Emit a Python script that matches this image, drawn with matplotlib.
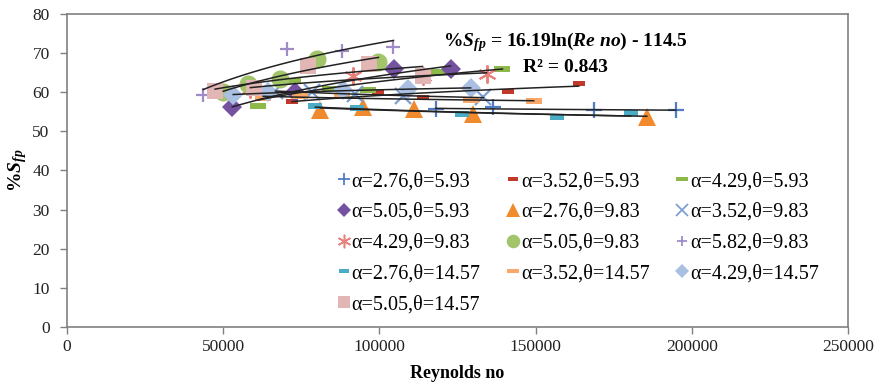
import numpy as np
import matplotlib
matplotlib.use("Agg")
import matplotlib.pyplot as plt
from matplotlib.lines import Line2D

plt.rcParams['font.family'] = ['Liberation Serif', 'DejaVu Serif']
plt.rcParams['mathtext.fontset'] = 'custom'
plt.rcParams['mathtext.rm'] = 'Liberation Serif'
plt.rcParams['mathtext.it'] = 'Liberation Serif:italic'
plt.rcParams['mathtext.bf'] = 'Liberation Serif:bold'
plt.rcParams['mathtext.bfit'] = 'Liberation Serif:bold:italic'

# ---- data (Reynolds no, %Sfp) ----
labels = ["α=2.76,θ=5.93", "α=3.52,θ=5.93", "α=4.29,θ=5.93",
          "α=5.05,θ=5.93", "α=2.76,θ=9.83", "α=3.52,θ=9.83",
          "α=4.29,θ=9.83", "α=5.05,θ=9.83", "α=5.82,θ=9.83",
          "α=2.76,θ=14.57", "α=3.52,θ=14.57", "α=4.29,θ=14.57",
          "α=5.05,θ=14.57"]

x1 = [118000, 136500, 168600, 194900]
y1 = [55.6, 56.2, 55.4, 55.4]
x2 = [72100, 99700, 113800, 141300, 163800]
y2 = [57.7, 60.0, 58.7, 60.3, 62.3]
x3 = [61200, 72400, 84300, 96500, 118900, 139400]
y3 = [56.4, 62.8, 60.8, 60.5, 65.1, 65.9]
x4 = [52900, 73100, 104800, 122800]
y4 = [56.2, 60.0, 65.9, 65.9]
x5 = [81100, 94900, 111200, 130100, 185600]
y5 = [55.4, 56.2, 55.6, 54.4, 53.8]
x6 = [66700, 78500, 92300, 107700, 133300]
y6 = [60.3, 60.0, 59.5, 59.0, 58.7]
x7 = [58700, 91700, 114100, 134300]
y7 = [60.8, 64.1, 64.1, 64.6]
x8 = [50000, 58000, 68300, 80100, 99700]
y8 = [60.0, 62.1, 63.3, 68.5, 67.7]
x9 = [43600, 70500, 88100, 104500]
y9 = [59.2, 71.0, 70.5, 71.6]
x10 = [79500, 92900, 126300, 157000, 180400]
y10 = [56.4, 55.9, 54.4, 53.8, 54.6]
x11 = [62800, 74700, 88100, 129200, 149400]
y11 = [58.5, 59.0, 59.0, 57.9, 57.7]
x12 = [53200, 64400, 88500, 109000, 129200]
y12 = [59.2, 60.0, 60.5, 60.8, 61.0]
x13 = [47400, 60000, 77200, 96800, 113800]
y13 = [60.3, 61.0, 66.7, 67.2, 64.1]

xs = [x1, x2, x3, x4, x5, x6, x7, x8, x9, x10, x11, x12, x13]
ys = [y1, y2, y3, y4, y5, y6, y7, y8, y9, y10, y11, y12, y13]

dash_w = [(-1, -0.33), (1, -0.33), (1, 0.33), (-1, 0.33), (-1, -0.33)]
dash_s = [(-1, -0.4), (1, -0.4), (1, 0.4), (-1, 0.4), (-1, -0.4)]

styles = [
    dict(marker='+', color='#4F7CC4', ms=12, mew=1.6),
    dict(marker=dash_s, color='#C0392B', ms=9, mew=0),
    dict(marker=dash_w, color='#8DB84A', ms=12, mew=0),
    dict(marker='D', color='#7452A0', ms=10, mew=0),
    dict(marker='^', color='#F08A2C', ms=13, mew=0),
    dict(marker='x', color='#7DA0D4', ms=12, mew=1.6),
    dict(marker=(6, 2, 0), color='#E8807C', ms=13, mew=1.4),
    dict(marker='o', color='#A2C46A', ms=13, mew=0),
    dict(marker='+', color='#9E8BC8', ms=10, mew=1.6),
    dict(marker=dash_s, color='#4BACC6', ms=10, mew=0),
    dict(marker=dash_s, color='#F9A86A', ms=11, mew=0),
    dict(marker='D', color='#A9C0E2', ms=10, mew=0),
    dict(marker='s', color='#E2B6B5', ms=11, mew=0),
]

fig = plt.figure(figsize=(8.82, 3.85), dpi=100)
ax = fig.add_axes([67 / 882, 1 - 327 / 385, (848 - 67) / 882, (327 - 14) / 385])

handles = []
for x, y, st, lab in zip(xs, ys, styles, labels):
    ax.plot(x, y, linestyle='none', marker=st['marker'], color=st['color'],
            markersize=st['ms'], markeredgewidth=st['mew'],
            markeredgecolor=st['color'], label=lab, zorder=2)
    handles.append(Line2D([], [], linestyle='none', marker=st['marker'], color=st['color'],
                          markersize=st['ms'] * 0.75, markeredgewidth=st['mew'] * 0.8,
                          markeredgecolor=st['color']))
    # logarithmic trendline
    b, a = np.polyfit(np.log(x), y, 1)
    xx = np.linspace(min(x), max(x), 100)
    ax.plot(xx, a + b * np.log(xx), color='#222222', lw=1.1, zorder=3)

ax.set_xlim(0, 250000)
ax.set_ylim(0, 80)
ax.set_xticks([0, 50000, 100000, 150000, 200000, 250000])
ax.set_yticks(range(0, 81, 10))
ax.tick_params(direction='out', length=5, width=1, color='#808080', labelsize=12.5,
               labelcolor='#222222')
ax.tick_params(axis='y', pad=7.5)
for sp in ax.spines.values():
    sp.set_color('#808080')
    sp.set_linewidth(1.2)

ax.set_xlabel('Reynolds no', fontsize=13, fontweight='bold', labelpad=7)
ax.set_ylabel(r'%$\mathbfit{S}_{\mathbfit{fp}}$', fontsize=14, fontweight='bold', labelpad=2)

ax.text(0.638, 0.91, r'%$\mathbfit{S}_{\mathbfit{fp}}$ = 16.19ln($\mathbfit{Re\ no}$) - 114.5',
        transform=ax.transAxes, ha='center', va='center', fontsize=14, fontweight='bold')
ax.text(0.638, 0.83, 'R² = 0.843', transform=ax.transAxes, ha='center', va='center',
        fontsize=14, fontweight='bold')

order = [0, 3, 6, 9, 12, 1, 4, 7, 10, 2, 5, 8, 11]
leg = ax.legend([handles[i] for i in order], [labels[i] for i in order], ncol=3,
                loc='upper left', bbox_to_anchor=(0.336, 0.521), frameon=False,
                fontsize=14.5, handlelength=0.6, handletextpad=0.1,
                columnspacing=1.3, labelspacing=0.58, borderaxespad=0)

fig.savefig('out.png', dpi=100)
